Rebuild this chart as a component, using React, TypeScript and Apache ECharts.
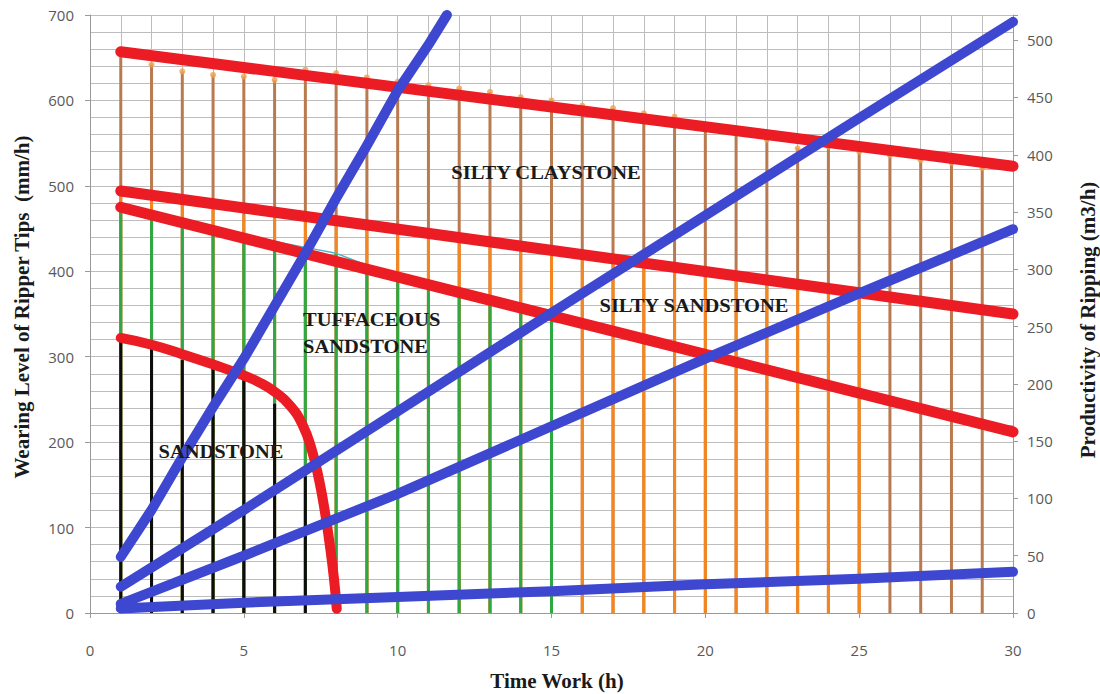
import React, { useEffect, useRef } from 'react';
import * as echarts from 'echarts';

// ---------- data ----------
const hours = [1, 2, 3, 4, 5, 6, 7, 8, 9, 10, 11, 12, 13, 14, 15, 16, 17, 18, 19, 20, 21, 22, 23, 24, 25, 26, 27, 28, 29, 30];

// measured wearing level (mm/h), left axis
const sandstone = [318, 311, 296, 289, 282, 245, 160, 0];
const tuffaceous = [472, 464, 456, 449, 441, 435, 428, 421, 407, 396, 386, 375, 363, 354, 345];
const siltySandstone = [492, 487, 481, 476, 466, 466, 459, 455, 452, 447, 443, 438, 433, 428, 423, 419, 414, 409, 404, 400, 395, 391, 386, 380, 376];
const siltyClaystone = [659, 642, 634, 630, 628, 624, 636, 632, 627, 622, 618, 614, 610, 604, 600, 594, 591, 585, 581, 571, 563, 554, 544, 546, 540, 536, 530, 527, 521];

// trend lines of wearing level (left axis)
const clayTrendX = [1, 30];
const clayTrendY = [657, 523];
const siltyTrendX = [1, 30];
const siltyTrendY = [494, 350];
const tuffTrendX = [1, 30];
const tuffTrendY = [475, 212];
const sandTrendX = [1, 2, 3, 4, 5, 5.5, 6, 6.5, 6.9, 7.2, 7.45, 7.65, 7.8, 7.93, 8.02];
const sandTrendY = [322, 314, 303, 291, 278, 270, 259, 243, 221, 192, 155, 115, 78, 40, 5];

// productivity of ripping (m3/h), right axis
const prodAX = [1, 2, 3, 4, 5, 6, 7, 8, 9, 10, 11, 11.6];
const prodAY = [49, 90, 136, 180, 222, 268, 314, 362, 408, 456, 496, 522];
const prodBX = [1, 5, 10, 15, 21, 25, 30];
const prodBY = [23, 90, 176, 262, 364, 432, 516];
const prodCX = [1, 5, 10, 15, 20, 25, 30];
const prodCY = [8, 50, 104, 163, 222, 279, 335];
const prodDX = [1, 5, 10, 15, 20, 25, 30];
const prodDY = [4, 9, 14, 19, 25, 30, 36];

const xTicks = [0, 5, 10, 15, 20, 25, 30];
const leftTicks = [0, 100, 200, 300, 400, 500, 600, 700];
const rightTicks = [0, 50, 100, 150, 200, 250, 300, 350, 400, 450, 500];
const rightMax = 522;

const pairs = (xs: number[], ys: number[]) => ys.map((y, i) => [xs[i], y]);

const RED = '#ec1c24';
const BLUE = '#3d47d0';
const SERIF = '"Liberation Serif", "Times New Roman", serif';
const SANS = '"Open Sans", "Liberation Sans", sans-serif';

export default function App() {
  const ref = useRef<HTMLDivElement>(null);

  useEffect(() => {
    document.body.style.margin = '0';
    const chart = echarts.init(ref.current!, null, { renderer: 'svg' });

    const dropBar = (name: string, data: number[], color: string, z: number) => ({
      name,
      type: 'bar',
      xAxisIndex: 0,
      yAxisIndex: 0,
      barWidth: 3,
      barGap: '-100%',
      z,
      itemStyle: { color },
      data: pairs(hours, data),
    });

    const trend = (name: string, xs: number[], ys: number[], color: string, width: number, yIdx: number, smooth: number | boolean = false) => ({
      name,
      type: 'line',
      xAxisIndex: 0,
      yAxisIndex: yIdx,
      showSymbol: false,
      symbol: 'none',
      smooth,
      z: yIdx === 1 ? 6 : 5,
      lineStyle: { color, width, cap: 'round', join: 'round' },
      data: pairs(xs, ys),
    });

    const annot = (text: string, x: number, y: number, align = 'center') => ({
      type: 'text',
      x,
      y,
      z: 100,
      style: {
        text,
        fill: '#1a1a1a',
        fontFamily: SERIF,
        fontWeight: 'bold',
        fontSize: 19,
        align,
        verticalAlign: 'middle',
      },
      scaleX: 1.08,
    });

    chart.setOption({
      animation: false,
      backgroundColor: '#ffffff',
      grid: { left: 90, right: 87, top: 15, bottom: 81, containLabel: false },
      xAxis: {
        type: 'value',
        min: xTicks[0],
        max: xTicks[xTicks.length - 1],
        interval: 5,
        axisLine: { show: true, lineStyle: { color: '#9a9a9a', width: 1 } },
        axisTick: { show: true, length: 5, lineStyle: { color: '#9a9a9a' } },
        axisLabel: { color: '#595959', fontFamily: SANS, fontSize: 15, margin: 29 },
        splitLine: { show: true, lineStyle: { color: '#bdbdbd', width: 1 } },
        minorTick: { show: false, splitNumber: 5 },
        minorSplitLine: { show: true, lineStyle: { color: '#bdbdbd', width: 1 } },
      },
      yAxis: [
        {
          type: 'value',
          min: leftTicks[0],
          max: leftTicks[leftTicks.length - 1],
          interval: 100,
          axisLine: { show: true, lineStyle: { color: '#9a9a9a', width: 1 } },
          axisTick: { show: true, length: 5, lineStyle: { color: '#9a9a9a' } },
          axisLabel: { color: '#595959', fontFamily: SANS, fontSize: 15, margin: 16 },
          splitLine: { show: true, lineStyle: { color: '#bdbdbd', width: 1 } },
          minorTick: { show: false, splitNumber: 5 },
          minorSplitLine: { show: true, lineStyle: { color: '#bdbdbd', width: 1 } },
        },
        {
          type: 'value',
          position: 'right',
          min: rightTicks[0],
          max: rightMax,
          interval: 50,
          axisLine: { show: true, lineStyle: { color: '#9a9a9a', width: 1 } },
          axisTick: { show: true, length: 5, lineStyle: { color: '#9a9a9a' } },
          axisLabel: {
            color: '#595959',
            fontFamily: SANS,
            fontSize: 15,
            margin: 14,
            formatter: (v: number) => (rightTicks.includes(v) ? String(v) : ''),
          },
          splitLine: { show: false },
        },
      ],
      series: [
        dropBar('Silty Claystone', siltyClaystone, '#b97a4f', 2),
        dropBar('Silty Sandstone', siltySandstone, '#f5861f', 2),
        dropBar('Tuffaceous Sandstone', tuffaceous, '#2ea843', 2),
        dropBar('Sandstone', sandstone, '#0d0d0d', 2),
        {
          name: 'Tuffaceous data',
          type: 'line',
          xAxisIndex: 0,
          yAxisIndex: 0,
          symbol: 'none',
          z: 3,
          lineStyle: { color: '#4fb5c6', width: 1.5 },
          data: pairs(hours, tuffaceous),
        },
        {
          name: 'Claystone points',
          type: 'scatter',
          xAxisIndex: 0,
          yAxisIndex: 0,
          symbol: 'circle',
          symbolSize: 6,
          z: 3,
          itemStyle: { color: '#f0a04e' },
          data: pairs(hours, siltyClaystone),
        },
        trend('Claystone trend', clayTrendX, clayTrendY, RED, 11, 0),
        trend('Silty sandstone trend', siltyTrendX, siltyTrendY, RED, 11, 0),
        trend('Tuffaceous trend', tuffTrendX, tuffTrendY, RED, 11, 0),
        trend('Sandstone trend', sandTrendX, sandTrendY, RED, 10, 0, 0.5),
        trend('Productivity A', prodAX, prodAY, BLUE, 10, 1, false),
        trend('Productivity B', prodBX, prodBY, BLUE, 10, 1),
        trend('Productivity C', prodCX, prodCY, BLUE, 10, 1),
        trend('Productivity D', prodDX, prodDY, BLUE, 10, 1),
      ],
      graphic: [
        annot('SILTY CLAYSTONE', 546, 172),
        annot('SILTY SANDSTONE', 694, 305),
        annot('TUFFACEOUS', 303, 319, 'left'),
        annot('SANDSTONE', 303, 346, 'left'),
        annot('SANDSTONE', 221, 451),
        {
          type: 'text',
          x: 557,
          y: 681,
          style: {
            text: 'Time Work (h)',
            fill: '#1a1a1a',
            fontFamily: SERIF,
            fontWeight: 'bold',
            fontSize: 21,
            align: 'center',
            verticalAlign: 'middle',
          },
        },
        {
          type: 'text',
          x: 22,
          y: 307,
          rotation: Math.PI / 2,
          style: {
            text: 'Wearing Level of Ripper Tips  (mm/h)',
            fill: '#1a1a1a',
            fontFamily: SERIF,
            fontWeight: 'bold',
            fontSize: 21,
            align: 'center',
            verticalAlign: 'middle',
          },
        },
        {
          type: 'text',
          x: 1088,
          y: 320,
          rotation: Math.PI / 2,
          style: {
            text: 'Productivity of Ripping (m3/h)',
            fill: '#1a1a1a',
            fontFamily: SERIF,
            fontWeight: 'bold',
            fontSize: 21,
            align: 'center',
            verticalAlign: 'middle',
          },
        },
      ],
    });

    return () => chart.dispose();
  }, []);

  return <div ref={ref} style={{ width: 1100, height: 694 }} />;
}
